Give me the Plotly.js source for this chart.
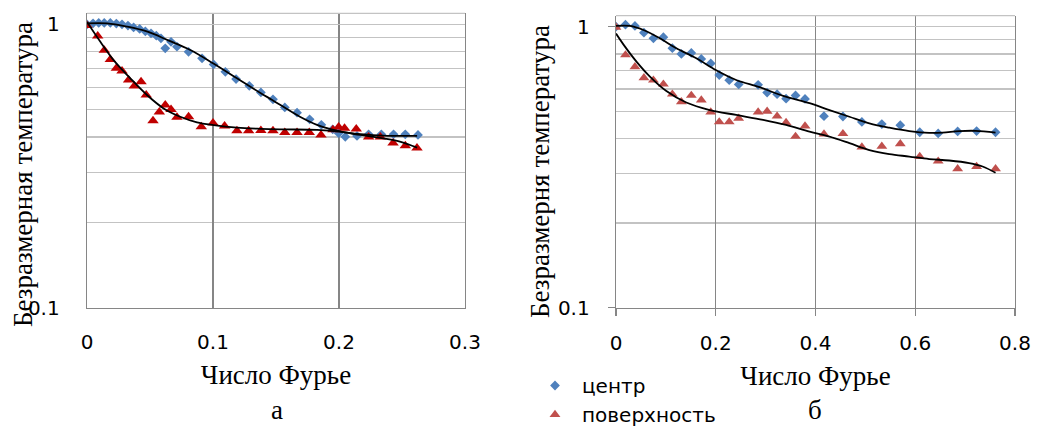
<!DOCTYPE html>
<html>
<head>
<meta charset="utf-8">
<script src="https://cdn.plot.ly/plotly-3.0.1.min.js"></script>
<style>html,body{margin:0;padding:0;background:#fff;}#chart{width:1043px;height:426px;}</style>
</head>
<body>
<div id="chart"></div>
<script>
// ---------- data: panel "а" ----------
const leftCenterX = [0, 0.0048, 0.0093, 0.0137, 0.0185, 0.0233, 0.0278, 0.0325, 0.037, 0.0418, 0.0463, 0.0508, 0.055, 0.0587, 0.0621, 0.0667, 0.0714, 0.0806, 0.0913, 0.1005, 0.1098, 0.1183, 0.1288, 0.138, 0.1476, 0.157, 0.1667, 0.1767, 0.186, 0.195, 0.1997, 0.205, 0.2143, 0.2235, 0.2336, 0.2433, 0.2526, 0.2627];
const leftCenterY = [1.0, 1.008, 1.012, 1.012, 1.012, 1.006, 1.0, 0.99, 0.975, 0.963, 0.945, 0.93, 0.912, 0.893, 0.823, 0.868, 0.834, 0.80, 0.759, 0.722, 0.68, 0.641, 0.607, 0.575, 0.544, 0.509, 0.488, 0.462, 0.442, 0.426, 0.413, 0.401, 0.404, 0.409, 0.409, 0.409, 0.409, 0.407];
const leftSurfX = [0, 0.0085, 0.0137, 0.0185, 0.0233, 0.0278, 0.033, 0.0375, 0.0429, 0.047, 0.0524, 0.0574, 0.0621, 0.0667, 0.0714, 0.0806, 0.0907, 0.1, 0.1092, 0.119, 0.1283, 0.138, 0.1476, 0.157, 0.1667, 0.1764, 0.1857, 0.1952, 0.1997, 0.2044, 0.2137, 0.2235, 0.2328, 0.2429, 0.2526, 0.2619];
const leftSurfY = [0.99, 0.909, 0.81, 0.752, 0.70, 0.684, 0.636, 0.606, 0.627, 0.563, 0.457, 0.491, 0.519, 0.501, 0.47, 0.472, 0.435, 0.449, 0.438, 0.421, 0.421, 0.422, 0.421, 0.415, 0.415, 0.415, 0.407, 0.425, 0.434, 0.43, 0.427, 0.40, 0.40, 0.381, 0.373, 0.366];
const leftCenterTrendX = [0, 0.016, 0.032, 0.048, 0.064, 0.082, 0.100, 0.119, 0.138, 0.147, 0.169, 0.183, 0.194, 0.209, 0.235, 0.262];
const leftCenterTrendY = [1.008, 1.008, 0.981, 0.942, 0.88, 0.812, 0.729, 0.645, 0.571, 0.541, 0.472, 0.441, 0.426, 0.413, 0.405, 0.404];
const leftSurfTrendX = [0, 0.0106, 0.0211, 0.0344, 0.0476, 0.0608, 0.074, 0.0873, 0.1005, 0.119, 0.138, 0.156, 0.1825, 0.200, 0.217, 0.235, 0.249, 0.262];
const leftSurfTrendY = [1.02, 0.868, 0.748, 0.645, 0.563, 0.505, 0.472, 0.451, 0.441, 0.432, 0.428, 0.426, 0.424, 0.418, 0.407, 0.396, 0.385, 0.367];

// ---------- data: panel "б" ----------
const rightX = [0, 0.019, 0.038, 0.056, 0.075, 0.095, 0.113, 0.131, 0.151, 0.171, 0.190, 0.207, 0.227, 0.246, 0.285, 0.303, 0.323, 0.341, 0.360, 0.379, 0.417, 0.455, 0.493, 0.533, 0.570, 0.609, 0.646, 0.685, 0.723, 0.761];
const rightCenterY = [1.0, 1.016, 1.006, 0.952, 0.909, 0.917, 0.838, 0.80, 0.806, 0.768, 0.74, 0.673, 0.645, 0.623, 0.621, 0.583, 0.575, 0.554, 0.569, 0.553, 0.48, 0.479, 0.458, 0.45, 0.446, 0.421, 0.417, 0.424, 0.425, 0.421];
const rightSurfY = [0.995, 0.793, 0.72, 0.658, 0.645, 0.624, 0.575, 0.54, 0.569, 0.548, 0.497, 0.458, 0.458, 0.472, 0.497, 0.5, 0.48, 0.456, 0.407, 0.443, 0.415, 0.416, 0.373, 0.375, 0.383, 0.345, 0.332, 0.312, 0.318, 0.312];
const rightCenterTrendX = [0, 0.028, 0.055, 0.088, 0.121, 0.161, 0.200, 0.241, 0.288, 0.335, 0.388, 0.428, 0.468, 0.508, 0.548, 0.588, 0.628, 0.655, 0.688, 0.721, 0.761];
const rightCenterTrendY = [1.006, 1.006, 0.973, 0.909, 0.838, 0.772, 0.701, 0.646, 0.609, 0.567, 0.534, 0.505, 0.478, 0.453, 0.437, 0.425, 0.419, 0.42, 0.425, 0.426, 0.42];
const rightSurfTrendX = [0, 0.018, 0.041, 0.068, 0.101, 0.141, 0.188, 0.241, 0.295, 0.341, 0.388, 0.428, 0.468, 0.508, 0.548, 0.588, 0.628, 0.668, 0.708, 0.735, 0.761];
const rightSurfTrendY = [0.945, 0.849, 0.751, 0.664, 0.59, 0.537, 0.505, 0.485, 0.466, 0.447, 0.423, 0.406, 0.385, 0.364, 0.352, 0.345, 0.338, 0.334, 0.327, 0.318, 0.302];

// ---------- ticks / labels ----------
const leftXTicks = [0, 0.1, 0.2, 0.3];
const leftXText = ['0', '0.1', '0.2', '0.3'];
const rightXTicks = [0, 0.2, 0.4, 0.6, 0.8];
const rightXText = ['0', '0.2', '0.4', '0.6', '0.8'];
const yMajor = [0.1, 1];
const yMajorText = ['0.1', '1'];
const yMinor = [0.2, 0.3, 0.4, 0.5, 0.6, 0.7, 0.8, 0.9];
const seriesNames = ['центр', 'поверхность'];
const xTitle = 'Число Фурье';
const leftYTitle = 'Безразмерная температура';
const rightYTitle = 'Безразмерня температура';
const panelLabels = ['а', 'б'];

// ---------- styling ----------
const SANS = 'DejaVu Sans, Open Sans, sans-serif';
const SERIF = 'Liberation Serif, Times New Roman, serif';
const DARK = '#868686';
const LIGHT = '#c3c3c3';
const BLUE = '#4F81BD';
const RED_A = '#C00000';
const RED_B = '#C0504D';

const W = 1043, H = 426;
const px = v => v / W;
const py = v => 1 - v / H;

const traces = [
  {x: leftCenterX, y: leftCenterY, xaxis: 'x', yaxis: 'y', type: 'scatter', mode: 'markers', showlegend: false,
   marker: {symbol: 'diamond', size: 7.5, color: BLUE}},
  {x: leftSurfX, y: leftSurfY, xaxis: 'x', yaxis: 'y', type: 'scatter', mode: 'markers', showlegend: false,
   marker: {symbol: 'triangle-up', size: 10, color: RED_A}},
  {x: leftCenterTrendX, y: leftCenterTrendY, xaxis: 'x', yaxis: 'y', type: 'scatter', mode: 'lines', showlegend: false,
   line: {color: '#000', width: 1.8, shape: 'spline'}},
  {x: leftSurfTrendX, y: leftSurfTrendY, xaxis: 'x', yaxis: 'y', type: 'scatter', mode: 'lines', showlegend: false,
   line: {color: '#000', width: 1.8, shape: 'spline'}},
  {x: rightX, y: rightCenterY, xaxis: 'x2', yaxis: 'y2', type: 'scatter', mode: 'markers', name: seriesNames[0],
   marker: {symbol: 'diamond', size: 7.5, color: BLUE}},
  {x: rightX, y: rightSurfY, xaxis: 'x2', yaxis: 'y2', type: 'scatter', mode: 'markers', name: seriesNames[1],
   marker: {symbol: 'triangle-up', size: 9.5, color: RED_B}},
  {x: rightCenterTrendX, y: rightCenterTrendY, xaxis: 'x2', yaxis: 'y2', type: 'scatter', mode: 'lines', showlegend: false,
   line: {color: '#000', width: 1.8, shape: 'spline'}},
  {x: rightSurfTrendX, y: rightSurfTrendY, xaxis: 'x2', yaxis: 'y2', type: 'scatter', mode: 'lines', showlegend: false,
   line: {color: '#000', width: 1.8, shape: 'spline'}}
];

function xAxis(domain, range, tv, tt, anchor, withTicks) {
  return {
    domain: domain, range: range, anchor: anchor,
    tickmode: 'array', tickvals: tv, ticktext: tt,
    showgrid: true, gridcolor: DARK, gridwidth: 1.3, zeroline: false,
    showline: true, linecolor: DARK, linewidth: 1.3,
    ticks: withTicks ? 'outside' : '', ticklen: 7, tickcolor: DARK, tickwidth: 1.3,
    ticklabelstandoff: withTicks ? 10 : 16,
    tickfont: {family: SANS, size: 20, color: '#000'},
    title: {text: xTitle, font: {family: SERIF, size: 27, color: '#000'}, standoff: 12}
  };
}
function yAxis(domain, anchor, withTicks) {
  return {
    domain: domain, anchor: anchor, type: 'log', range: [-1, 0.039],
    tickmode: 'array', tickvals: yMajor, ticktext: yMajorText,
    showgrid: true, gridcolor: LIGHT, gridwidth: 1.3, zeroline: false,
    showline: true, mirror: true, linecolor: DARK, linewidth: 1.3,
    ticks: withTicks ? 'outside' : '', ticklen: 7, tickcolor: DARK, tickwidth: 1.3,
    ticklabelstandoff: withTicks ? 14 : 22,
    minor: {tickmode: 'array', tickvals: yMinor, showgrid: true, gridcolor: LIGHT, gridwidth: 1.3, ticks: ''},
    tickfont: {family: SANS, size: 20, color: '#000'}
  };
}

const layout = {
  width: W, height: H,
  margin: {l: 0, r: 0, t: 0, b: 0, autoexpand: false},
  paper_bgcolor: '#fff', plot_bgcolor: '#fff',
  showlegend: true,
  legend: {x: px(528), y: py(366), xanchor: 'left', yanchor: 'top', bgcolor: 'rgba(0,0,0,0)',
           font: {family: SANS, size: 20, color: '#000'}, itemwidth: 44, tracegroupgap: 0},
  xaxis: xAxis([px(87), px(465)], [0, 0.3], leftXTicks, leftXText, 'y', false),
  yaxis: yAxis([py(307.7), py(13.3)], 'x', false),
  xaxis2: xAxis([px(616), px(1015)], [0, 0.8], rightXTicks, rightXText, 'y2', true),
  yaxis2: yAxis([py(307.7), py(15.7)], 'x2', true),
  shapes: [
    {type: 'line', xref: 'x domain', yref: 'y domain', x0: 0, x1: 1, y0: 1, y1: 1, line: {color: LIGHT, width: 1.3}},
    {type: 'line', xref: 'x2 domain', yref: 'y2 domain', x0: 0, x1: 1, y0: 1, y1: 1, line: {color: LIGHT, width: 1.3}}
  ],
  annotations: [
    {text: leftYTitle, xref: 'paper', yref: 'paper', x: px(23), y: py(175), xanchor: 'center', yanchor: 'middle',
     textangle: -90, showarrow: false, font: {family: SERIF, size: 27, color: '#000'}},
    {text: rightYTitle, xref: 'paper', yref: 'paper', x: px(540), y: py(172), xanchor: 'center', yanchor: 'middle',
     textangle: -90, showarrow: false, font: {family: SERIF, size: 27, color: '#000'}},
    {text: panelLabels[0], xref: 'paper', yref: 'paper', x: px(277), y: py(410), xanchor: 'center', yanchor: 'middle',
     showarrow: false, font: {family: SERIF, size: 27, color: '#000'}},
    {text: panelLabels[1], xref: 'paper', yref: 'paper', x: px(815), y: py(410), xanchor: 'center', yanchor: 'middle',
     showarrow: false, font: {family: SERIF, size: 27, color: '#000'}}
  ]
};

Plotly.newPlot('chart', traces, layout, {displayModeBar: false, staticPlot: true});
</script>
</body>
</html>
